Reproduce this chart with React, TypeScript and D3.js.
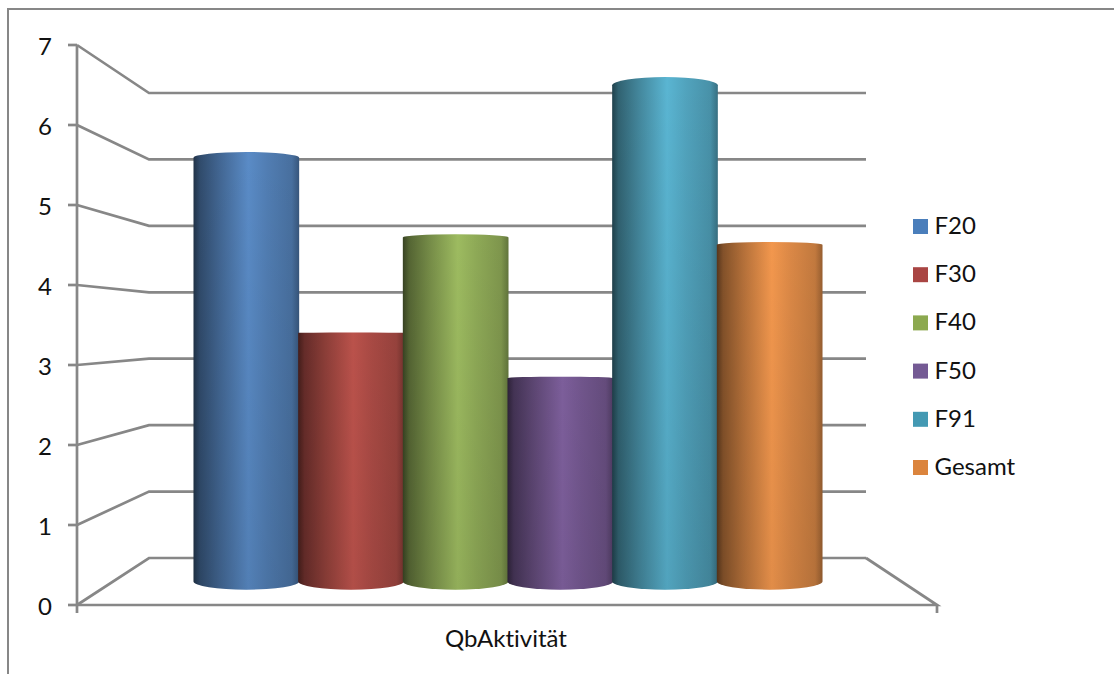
import React from "react";
import * as d3 from "d3";

// Mean QbAktivität per diagnosis group, shown as 3D-style cylinders.
const categories = ["F20", "F30", "F40", "F50", "F91", "Gesamt"];
const values = [5.79, 3.4, 4.7, 2.78, 6.78, 4.6];
const yTicks = [0, 1, 2, 3, 4, 5, 6, 7];
const axisLabel = "QbAktivität";

const peakColors = ["#5b8dc9", "#c4564f", "#a2c163", "#8464a4", "#5ab5d2", "#fa9c50"];
const swatchColors = ["#4a7ebb", "#a94543", "#8ca94f", "#745a94", "#4399b3", "#db843d"];

// Horizontal cylinder shading: offset along the width and brightness relative to the peak.
const shadeOffsets = [0, 0.06, 0.25, 0.52, 0.7, 0.93, 1];
const shadeLevels = [0.36, 0.54, 0.74, 1, 0.9, 0.8, 0.62];

const WIDTH = 1114;
const HEIGHT = 674;
const FONT = "Lato, Carlito, Calibri, sans-serif";
const FONT_SIZE = 24;
const GRID = "#878787";
const INK = "#111";

const yFront = d3.scaleLinear().domain([0, 7]).range([605, 45]);
const yBack = d3.scaleLinear().domain([0, 7]).range([558, 93]);
const yMid = d3.scaleLinear().domain([0, 7]).range([581.5, 69.25]);
const x = d3.scaleBand<string>().domain(categories).range([194, 822]).padding(0);

const FRONT_LEFT = 77;
const FRONT_RIGHT = 937;
const BACK_LEFT = 149;
const BACK_RIGHT = 866;
const EYE_LEVEL = 335;
const LEGEND_TOP = 226.5;
const LEGEND_STEP = 48.2;

// The ellipse flattens as a cylinder end approaches eye level.
const ellipseRy = (y: number) => Math.abs(y - EYE_LEVEL) * 0.033;

function cylinderPath(category: string, value: number) {
  const x0 = (x(category) as number) - 0.5;
  const x1 = (x(category) as number) + x.bandwidth() + 0.5;
  const rx = (x1 - x0) / 2;
  const top = yMid(value);
  const base = yMid(0);
  return `M${x0},${top}A${rx},${ellipseRy(top)} 0 0 1 ${x1},${top}V${base}A${rx},${ellipseRy(base)} 0 0 1 ${x0},${base}Z`;
}

export default function App() {
  return (
    <svg
      width={WIDTH}
      height={HEIGHT}
      viewBox={`0 0 ${WIDTH} ${HEIGHT}`}
      style={{
        position: "absolute",
        left: 0,
        top: 0,
        background: "#fff",
        fontVariantLigatures: "none",
      }}
      fontFamily={FONT}
    >
      <defs>
        {categories.map((c, i) => (
          <linearGradient key={c} id={`body-${i}`} x1="0" x2="1" y1="0" y2="0">
            {shadeOffsets.map((o, j) => (
              <stop
                key={o}
                offset={o}
                stopColor={d3.interpolateRgb("#000", peakColors[i])(shadeLevels[j])}
              />
            ))}
          </linearGradient>
        ))}
        <linearGradient id="falloff" gradientUnits="userSpaceOnUse" x1="0" x2="0" y1="80" y2="590">
          <stop offset="0" stopColor="#000" stopOpacity={0} />
          <stop offset="1" stopColor="#000" stopOpacity={0.1} />
        </linearGradient>
      </defs>

      {/* Chart frame, open on the right and bottom */}
      <path d={`M8,${HEIGHT}V9H${WIDTH}`} fill="none" stroke={GRID} strokeWidth={2} />

      {/* Gridlines running along the side wall and back wall */}
      <g fill="none" stroke={GRID} strokeWidth={2.7}>
        {yTicks.map((t) => (
          <path
            key={t}
            d={`M${FRONT_LEFT},${yFront(t)}L${BACK_LEFT},${yBack(t)}H${BACK_RIGHT}`}
          />
        ))}
        <path
          d={`M${BACK_RIGHT},${yBack(0)}L${FRONT_RIGHT},${yFront(0)}H${FRONT_LEFT}`}
        />
        <path d={`M${FRONT_LEFT},${yFront(7)}V${yFront(0) + 8}`} />
        <path d={`M${FRONT_RIGHT},${yFront(0)}v8`} />
        {yTicks.map((t) => (
          <path key={t} d={`M${FRONT_LEFT - 9},${yFront(t)}H${FRONT_LEFT}`} />
        ))}
      </g>

      {/* Value axis labels */}
      <g fontSize={FONT_SIZE} fill={INK} textAnchor="end">
        {yTicks.map((t) => (
          <text key={t} x={52} y={yFront(t) + 9.5}>
            {t}
          </text>
        ))}
      </g>

      {/* Cylinders, painted left to right so each overlaps the previous one */}
      {categories.map((c, i) => (
        <g key={c}>
          <path d={cylinderPath(c, values[i])} fill={`url(#body-${i})`} />
          <path d={cylinderPath(c, values[i])} fill="url(#falloff)" />
        </g>
      ))}

      <text x={506} y={647} fontSize={FONT_SIZE} fill={INK} textAnchor="middle">
        {axisLabel}
      </text>

      {/* Legend */}
      {categories.map((c, i) => (
        <g key={c} transform={`translate(913,${LEGEND_TOP + i * LEGEND_STEP})`}>
          <rect x={0} y={-7.5} width={15} height={15} fill={swatchColors[i]} />
          <text x={21.5} y={7.5} fontSize={FONT_SIZE} fill={INK}>
            {c}
          </text>
        </g>
      ))}
    </svg>
  );
}
